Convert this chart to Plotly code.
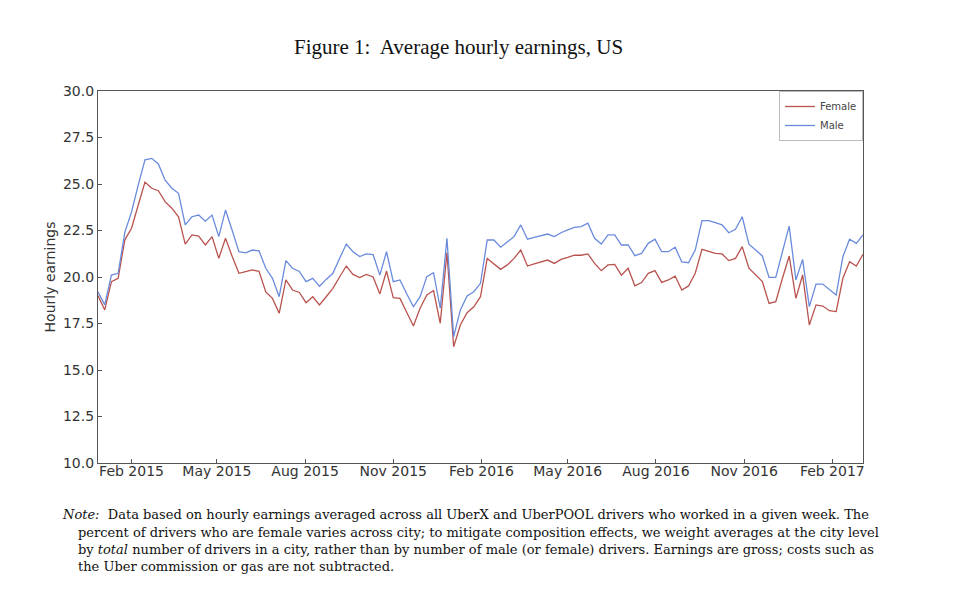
import pandas as pd
import plotly.graph_objects as go

start_date = "2014-12-28"
n_weeks = 115

female = [19.0, 18.23, 19.75, 19.93, 22.0, 22.62, 23.87, 25.1, 24.77, 24.64,
          24.05, 23.7, 23.24, 21.77, 22.26, 22.2, 21.72, 22.17, 21.0, 22.08,
          21.1, 20.2, 20.29, 20.38, 20.3, 19.2, 18.85, 18.05, 19.84, 19.3,
          19.17, 18.62, 18.94, 18.5, 18.94, 19.39, 20.0, 20.59, 20.14, 19.97,
          20.14, 20.0, 19.09, 20.32, 18.89, 18.85, 18.1, 17.37, 18.32, 19.03,
          19.27, 17.51, 21.31, 16.25, 17.42, 18.08, 18.4, 18.94, 21.0, 20.7,
          20.41, 20.65, 21.0, 21.45, 20.59, 20.7, 20.82, 20.91, 20.73, 20.95,
          21.06, 21.18, 21.17, 21.24, 20.73, 20.34, 20.65, 20.68, 20.1, 20.47,
          19.53, 19.7, 20.2, 20.34, 19.71, 19.84, 20.05, 19.3, 19.52, 20.2,
          21.49, 21.4, 21.27, 21.24, 20.88, 21.0, 21.63, 20.47, 20.11, 19.75,
          18.58, 18.67, 19.93, 21.13, 18.85, 20.11, 17.42, 18.5, 18.44, 18.19,
          18.14, 19.93, 20.82, 20.59, 21.22]

male = [19.2, 18.5, 20.1, 20.2, 22.4, 23.5, 24.95, 26.3, 26.38, 26.08,
        25.2, 24.77, 24.5, 22.8, 23.24, 23.33, 23.0, 23.33, 22.17, 23.6,
        22.5, 21.36, 21.3, 21.45, 21.4, 20.47, 19.93, 18.94, 20.88, 20.47,
        20.3, 19.75, 19.93, 19.5, 19.87, 20.2, 21.0, 21.77, 21.36, 21.1,
        21.24, 21.2, 20.1, 21.36, 19.75, 19.84, 19.1, 18.4, 18.94, 20.02,
        20.23, 18.32, 22.08, 16.79, 18.23, 18.98, 19.21, 19.66, 21.99, 21.99,
        21.6, 21.9, 22.17, 22.8, 22.03, 22.13, 22.22, 22.31, 22.17, 22.38,
        22.53, 22.67, 22.71, 22.89, 22.08, 21.77, 22.26, 22.26, 21.72, 21.72,
        21.15, 21.27, 21.81, 22.03, 21.36, 21.36, 21.6, 20.81, 20.77, 21.45,
        23.03, 23.03, 22.92, 22.8, 22.38, 22.56, 23.24, 21.76, 21.45, 21.13,
        19.98, 19.98, 21.36, 22.74, 19.84, 20.95, 18.41, 19.62, 19.62, 19.3,
        19.03, 21.09, 22.03, 21.81, 22.26]

tick_dates = ["2015-02-01", "2015-05-01", "2015-08-01", "2015-11-01", "2016-02-01",
              "2016-05-01", "2016-08-01", "2016-11-01", "2017-02-01"]
tick_labels = ["Feb 2015", "May 2015", "Aug 2015", "Nov 2015", "Feb 2016",
               "May 2016", "Aug 2016", "Nov 2016", "Feb 2017"]
y_ticks = [10.0, 12.5, 15.0, 17.5, 20.0, 22.5, 25.0, 27.5, 30.0]

dates = pd.date_range(start_date, periods=n_weeks, freq="7D")

fig = go.Figure()
fig.add_trace(go.Scatter(x=dates, y=female, mode="lines", name="Female",
                         line=dict(color="#B9534F", width=1.3)))
fig.add_trace(go.Scatter(x=dates, y=male, mode="lines", name="Male",
                         line=dict(color="#6A8BDC", width=1.3)))

axis_col = "#555555"
fig.update_xaxes(range=[dates[0], dates[-1]], tickvals=tick_dates, ticktext=tick_labels,
                 showline=True, mirror=True, linecolor=axis_col, linewidth=1.2,
                 ticks="inside", ticklen=4, tickcolor=axis_col, showgrid=False,
                 zeroline=False, ticklabelstandoff=-5,
                 tickfont=dict(family="DejaVu Sans", size=14, color="#333333"))
fig.update_yaxes(range=[10, 30], tickvals=y_ticks, tickformat=".1f",
                 showline=True, mirror=True, linecolor=axis_col, linewidth=1.2,
                 ticks="inside", ticklen=4, tickcolor=axis_col, showgrid=False,
                 zeroline=False, tickfont=dict(family="DejaVu Sans", size=14, color="#333333"),
                 title=dict(text="Hourly earnings", font=dict(family="DejaVu Sans", size=14, color="#333333"),
                            standoff=4))

# page body has an 8px margin; work in reference pixel coordinates shifted by it
OFF = 8
W, H = 952, 591
L, T = 98 - OFF, 91 - OFF
pw, ph = 765, 372
R, B = W - L - pw, H - T - ph

def px(x):
    return (x - OFF - L) / pw

def py(y):
    return (T + ph - (y - OFF)) / ph

annotations = [
    dict(text="Figure 1:  Average hourly earnings, US", x=px(458), y=py(47),
         xanchor="center", font=dict(family="Liberation Serif", size=21, color="#111111")),
]
note_lines = [
    (60, 514, "<i>Note:</i>  Data based on hourly earnings averaged across all UberX and UberPOOL drivers who worked in a given week. The"),
    (76, 532, "percent of drivers who are female varies across city; to mitigate composition effects, we weight averages at the city level"),
    (76, 549, "by <i>total</i> number of drivers in a city, rather than by number of male (or female) drivers. Earnings are gross; costs such as"),
    (76, 566, "the Uber commission or gas are not subtracted."),
]
for xx, yy, t in note_lines:
    annotations.append(dict(text=t, x=px(xx), y=py(yy), xanchor="left",
                            font=dict(family="DejaVu Serif", size=13.0, color="#111111")))
for a in annotations:
    a.update(xref="paper", yref="paper", showarrow=False, yanchor="middle")

fig.update_layout(
    width=W, height=H, margin=dict(l=L, r=R, t=T, b=B, autoexpand=False),
    paper_bgcolor="white", plot_bgcolor="white",
    annotations=annotations,
    legend=dict(x=1, y=1, xanchor="right", yanchor="top", bgcolor="rgba(255,255,255,0)",
                bordercolor="#bbbbbb", borderwidth=1,
                font=dict(family="DejaVu Sans", size=10, color="#444444"),
                itemwidth=30, tracegroupgap=0),
)

fig.write_html("out.html")
